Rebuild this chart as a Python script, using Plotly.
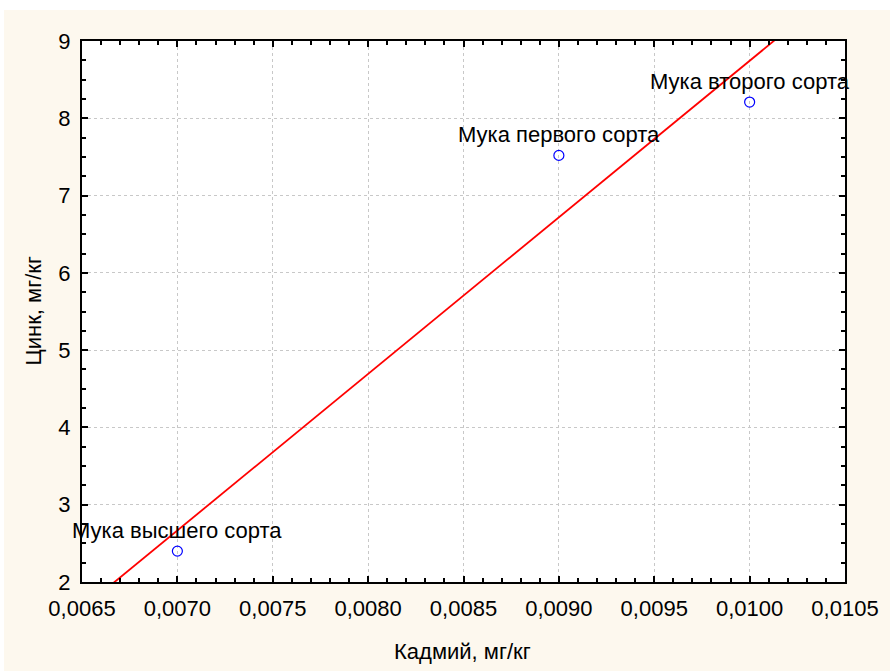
import numpy as np
import plotly.graph_objects as go

# Data
labels = ["Мука высшего сорта", "Мука первого сорта", "Мука второго сорта"]
cadmium = [0.0070, 0.0090, 0.0100]
zinc = [2.40, 7.52, 8.21]

x_tickvals = [0.0065, 0.0070, 0.0075, 0.0080, 0.0085, 0.0090, 0.0095, 0.0100, 0.0105]
x_ticktext = ["0,0065", "0,0070", "0,0075", "0,0080", "0,0085", "0,0090", "0,0095", "0,0100", "0,0105"]
y_tickvals = [2, 3, 4, 5, 6, 7, 8, 9]

x_title = "Кадмий, мг/кг"
y_title = "Цинк, мг/кг"

# Linear regression fit of the data
slope, intercept = np.polyfit(cadmium, zinc, 1)
fit_x = np.array([0.0065, 0.0105])
fit_y = slope * fit_x + intercept

FONT = "Liberation Sans, Arial, sans-serif"
CREAM = "#FDF8EE"
FS = 22

# page offset (white strip at top/left of the picture)
OX, OY = 4, 10
W, H = 890 - OX, 671 - OY
# plot area in picture pixels: x 82..845, y 41..582
ml, mt = 82 - OX, 41 - OY
mr, mb = 890 - 845, 671 - 582
pw, ph = W - ml - mr, H - mt - mb

fig = go.Figure()
fig.add_trace(go.Scatter(x=fit_x, y=fit_y, mode="lines",
                         line=dict(color="#FF0000", width=1.8),
                         showlegend=False, hoverinfo="skip"))
fig.add_trace(go.Scatter(x=cadmium, y=zinc, mode="markers",
                         marker=dict(symbol="circle-open", size=10, color="#0000FF",
                                     line=dict(width=1.2, color="#0000FF")),
                         showlegend=False))

for lab, xv, yv in zip(labels, cadmium, zinc):
    fig.add_annotation(x=xv, y=yv, text=lab, showarrow=False, yshift=21,
                       font=dict(family=FONT, size=FS, color="#000000"))

# axis titles (picture pixel centres: x title at (462, 651), y title at (33, ~310))
fig.add_annotation(xref="paper", yref="paper", x=(462 - 82) / pw,
                   y=-(651 - 582) / ph, text=x_title, showarrow=False,
                   xanchor="center", yanchor="middle",
                   font=dict(family=FONT, size=FS, color="black"))
fig.add_annotation(xref="paper", yref="paper", x=(33 - 82) / pw, y=0.5,
                   text=y_title, showarrow=False, textangle=-90,
                   xanchor="center", yanchor="middle",
                   font=dict(family=FONT, size=FS, color="black"))

axis_common = dict(
    showline=True, linecolor="black", linewidth=2, mirror="allticks",
    ticks="inside", ticklen=6, tickwidth=1.5, tickcolor="black",
    showgrid=True, gridcolor="#C8C8C8", griddash="dot", gridwidth=1,
    zeroline=False, automargin=False,
    tickfont=dict(family=FONT, size=FS, color="black"),
)

fig.update_xaxes(range=[0.0065, 0.0105], tickvals=x_tickvals, ticktext=x_ticktext,
                 ticklabelstandoff=6,
                 minor=dict(dtick=0.0001, ticks="inside", ticklen=4, tickcolor="black", showgrid=False),
                 **axis_common)
fig.update_yaxes(range=[2, 9], tickvals=y_tickvals, ticklabelstandoff=5,
                 minor=dict(dtick=0.25, ticks="inside", ticklen=4, tickcolor="black", showgrid=False),
                 **axis_common)

fig.update_layout(width=W, height=H, margin=dict(l=ml, r=mr, t=mt, b=mb),
                  paper_bgcolor=CREAM, plot_bgcolor="white",
                  font=dict(family=FONT, color="black"))

fig.write_html("out.html",
               post_script=f"document.body.style.margin='{OY}px 0 0 {OX}px';"
                           "document.body.style.overflow='hidden';")
